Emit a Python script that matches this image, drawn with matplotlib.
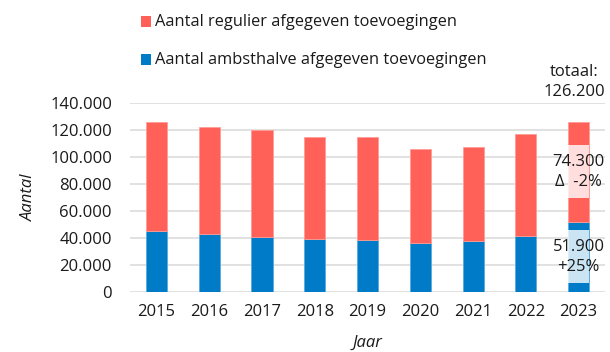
import matplotlib.pyplot as plt
import numpy as np
from matplotlib.patches import Rectangle

plt.rcParams['font.family'] = ['Open Sans', 'DejaVu Sans']

years = ['2015', '2016', '2017', '2018', '2019', '2020', '2021', '2022', '2023']
ambtshalve = [45100, 43100, 40900, 38900, 38400, 36400, 37700, 41600, 51900]
regulier = [80800, 79500, 79300, 76300, 76300, 69400, 69800, 75600, 74300]
yticks = [0, 20000, 40000, 60000, 80000, 100000, 120000, 140000]

label_regulier = 'Aantal regulier afgegeven toevoegingen'
label_ambtshalve = 'Aantal ambsthalve afgegeven toevoegingen'

red = '#FF6058'
blue = '#007BC7'
ink = '#1a1a1a'


def fmt(v):
    return f'{v:,.0f}'.replace(',', '.')


fig = plt.figure(figsize=(6.10, 3.52), dpi=100)
ax = fig.add_axes([130 / 610, 1 - 291.7 / 352, 475 / 610, 188.4 / 352])

x = np.arange(len(years))
w = 0.4
ax.bar(x, ambtshalve, w, color=blue, edgecolor='#5AA9DC', linewidth=0.6, zorder=2)
ax.bar(x, regulier, w, bottom=ambtshalve, color=red, edgecolor='#FF9C96',
       linewidth=0.6, zorder=2)

ax.set_xlim(-0.5, len(years) - 0.5)
ax.set_ylim(0, 140000)
ax.set_xticks(x)
ax.set_xticklabels(years)
ax.set_yticks(yticks)
ax.set_yticklabels([fmt(v) for v in yticks])
ax.tick_params(axis='both', length=0, labelsize=12, colors=ink)
ax.tick_params(axis='y', pad=13)
ax.tick_params(axis='x', pad=9)
ax.grid(axis='y', color='#DEDEDE', linewidth=1.3, zorder=0)
ax.set_axisbelow(True)
for s in ax.spines.values():
    s.set_visible(False)

# last year: values plus change versus the year before
i = len(years) - 1
total = ambtshalve[i] + regulier[i]
d_reg = round((regulier[i] / regulier[i - 1] - 1) * 100)
d_amb = round((ambtshalve[i] / ambtshalve[i - 1] - 1) * 100)
half = 19700
y_reg = ambtshalve[i] + regulier[i] / 2
y_amb = ambtshalve[i] / 2
for yc in (y_reg, y_amb):
    ax.add_patch(Rectangle((i - w / 2, yc - half), w, 2 * half, facecolor='white',
                           alpha=0.8, edgecolor='none', zorder=3))
ax.text(i, y_reg, f'{fmt(regulier[i])}\nΔ  {d_reg:+d}%', ha='center', va='center',
        fontsize=12, linespacing=1.3, color=ink, zorder=4)
ax.text(i, y_amb, f'{fmt(ambtshalve[i])}\n{d_amb:+d}%', ha='center', va='center',
        fontsize=12, linespacing=1.3, color=ink, zorder=4)
ax.text(i - 0.08, total + 29500, f'totaal:\n{fmt(total)}', ha='center', va='center',
        fontsize=12, linespacing=1.3, color=ink, zorder=4, clip_on=False,
        bbox=dict(facecolor='white', edgecolor='none', pad=1))

fig.text(368 / 610, 1 - 343 / 352, 'Jaar', ha='center', va='center', fontsize=12,
         style='italic', color=ink)
fig.text(29 / 610, 1 - 197.5 / 352, 'Aantal', ha='center', va='center', fontsize=12,
         style='italic', rotation=90, color=ink)

# legend
for yc, col, lab in [(21.5, red, label_regulier), (59.5, blue, label_ambtshalve)]:
    fig.patches.append(Rectangle((141 / 610, 1 - (yc + 5) / 352), 10 / 610, 10 / 352,
                                 transform=fig.transFigure, facecolor=col,
                                 edgecolor='none'))
    fig.text(155 / 610, 1 - yc / 352, lab, ha='left', va='center', fontsize=11.8,
             color=ink)

fig.savefig('out.png', dpi=100)
